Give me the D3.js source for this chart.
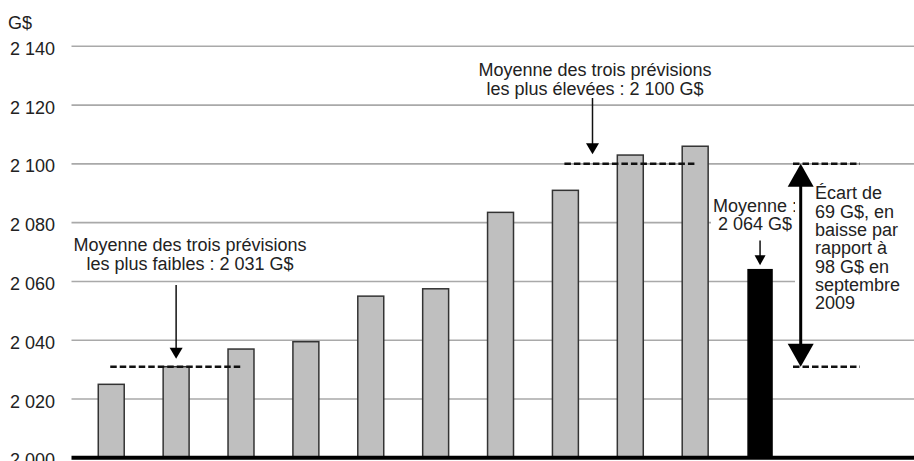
<!DOCTYPE html>
<html>
<head>
<meta charset="utf-8">
<script src="https://cdn.jsdelivr.net/npm/d3@7"></script>
<style>
  html, body { margin: 0; padding: 0; background: #fff; }
  svg { display: block; font-family: "Liberation Sans", Arial, Helvetica, sans-serif; }
</style>
</head>
<body>
<svg id="chart" width="914" height="461"></svg>
<script>
// Forecasts of the aggregate (G$), sorted, plus their overall average
const categories = ["1", "2", "3", "4", "5", "6", "7", "8", "9", "10", "Moyenne"];
const values = [2025, 2031, 2037, 2039.5, 2055, 2057.5, 2083.5, 2091, 2103, 2106, 2064];
const tickValues = [2000, 2020, 2040, 2060, 2080, 2100, 2120, 2140];
const lowAverage = 2031;   // mean of the three lowest forecasts
const highAverage = 2100;  // mean of the three highest forecasts
const unitLabel = "G$";
const lowText = ["Moyenne des trois prévisions", "les plus faibles : 2 031 G$"];
const highText = ["Moyenne des trois prévisions", "les plus élevées : 2 100 G$"];
const meanText = ["Moyenne :", "2 064 G$"];
const gapText = ["Écart de", "69 G$, en", "baisse par", "rapport à", "98 G$ en", "septembre", "2009"];

const svg = d3.select("#chart");
const W = 914;
const gridLeft = 71.5;
const ink = "#222";

const fr = d3.formatLocale({ decimal: ",", thousands: " ", grouping: [3], currency: ["", " $"] });
const fmt = fr.format(",d");

const y = d3.scaleLinear().domain([2000, 2140]).range([457.8, 46.3]);
const x = d3.scaleBand()
  .domain(categories)
  .range([78.8, 792.5])
  .paddingInner(0.6)
  .paddingOuter(0.3);

// Gridlines and value labels
const axis = d3.axisLeft(y).tickValues(tickValues).tickFormat(fmt).tickSize(0).tickPadding(0);
const gAxis = svg.append("g").attr("transform", "translate(55,0)").call(axis);
gAxis.select(".domain").remove();
gAxis.selectAll("text")
  .attr("font-size", 18).attr("fill", ink)
  .attr("font-family", "Liberation Sans, Arial, sans-serif")
  .attr("dy", "0.45em");

svg.append("g").selectAll("line")
  .data(tickValues.filter(d => d > 2000))
  .join("line")
  .attr("x1", gridLeft).attr("x2", W)
  .attr("y1", d => y(d)).attr("y2", d => y(d))
  .attr("stroke", "#a9a9a9").attr("stroke-width", 1.6);

svg.append("text").attr("x", 8).attr("y", 28.5)
  .attr("font-size", 18).attr("fill", ink).text(unitLabel);

// Bars
const isMean = (d, i) => i === categories.length - 1;
svg.append("g").selectAll("rect")
  .data(values)
  .join("rect")
  .attr("x", (d, i) => x(categories[i]) + (isMean(d, i) ? 1 : 0))
  .attr("width", (d, i) => x.bandwidth() - (isMean(d, i) ? 2 : 0))
  .attr("y", d => y(d))
  .attr("height", d => y(2000) - y(d))
  .attr("fill", (d, i) => isMean(d, i) ? "#000" : "#bfbfbf")
  .attr("stroke", (d, i) => isMean(d, i) ? "#000" : "#333")
  .attr("stroke-width", 1.5);

// Baseline
svg.append("line")
  .attr("x1", gridLeft).attr("x2", W)
  .attr("y1", y(2000)).attr("y2", y(2000))
  .attr("stroke", "#000").attr("stroke-width", 4);

// Dashed reference lines
const dash = (x1, x2, v) => svg.append("line")
  .attr("x1", x1).attr("x2", x2).attr("y1", y(v)).attr("y2", y(v))
  .attr("stroke", "#111").attr("stroke-width", 2.5).attr("stroke-dasharray", "6.5,3");
const cx = i => x(categories[i]) + x.bandwidth() / 2;
dash(cx(0) - 1, cx(2), lowAverage);
dash(cx(7) - 1, cx(9) + 1, highAverage);
dash(793, 860, highAverage);
dash(793, 860, lowAverage);

// Arrow helper: vertical shaft ending in a filled triangle at (ax, tipY)
function arrow(ax, y0, tipY, headW, headH, sw) {
  const dir = tipY > y0 ? 1 : -1;
  svg.append("line")
    .attr("x1", ax).attr("x2", ax).attr("y1", y0).attr("y2", tipY - dir * headH * 0.5)
    .attr("stroke", "#111").attr("stroke-width", sw);
  svg.append("path")
    .attr("d", `M${ax - headW / 2},${tipY - dir * headH} L${ax + headW / 2},${tipY - dir * headH} L${ax},${tipY} Z`)
    .attr("fill", "#000");
}

// Text blocks with an optional white backing
function textBlock(lines, tx, baseline, lead, anchor, bg) {
  if (bg) {
    svg.append("rect").attr("x", bg[0]).attr("y", bg[1]).attr("width", bg[2]).attr("height", bg[3]).attr("fill", "#fff");
  }
  const t = svg.append("text").attr("font-size", 18).attr("fill", ink).attr("text-anchor", anchor);
  lines.forEach((s, i) => t.append("tspan").attr("x", tx).attr("y", baseline + i * lead).text(s));
}

// Low-forecasts annotation
textBlock(lowText, 190, 251.3, 18.3, "middle");
arrow(cx(1), 285, y(lowAverage) - 8, 13, 11, 1.5);

// High-forecasts annotation
textBlock(highText, 595, 76.3, 18.3, "middle");
arrow(592.5, 98, y(highAverage) - 9.5, 13, 11, 1.5);

// Mean annotation
textBlock(meanText, 755, 211.7, 18.3, "middle", [711, 196, 86, 40]);
arrow(cx(10), 240.5, y(values[10]) - 4.5, 11, 10, 1.5);

// Spread between high and low averages
svg.append("rect").attr("x", 795).attr("y", 180).attr("width", W - 795).attr("height", 136).attr("fill", "#fff");
textBlock(gapText, 815, 199.3, 18.3, "start");
const gx = 800.7;
svg.append("line").attr("x1", gx).attr("x2", gx)
  .attr("y1", y(highAverage) + 15).attr("y2", y(lowAverage) - 15)
  .attr("stroke", "#000").attr("stroke-width", 3);
svg.append("path")
  .attr("d", `M${gx - 13},${y(highAverage) + 23} L${gx + 13},${y(highAverage) + 23} L${gx},${y(highAverage)} Z`)
  .attr("fill", "#000");
svg.append("path")
  .attr("d", `M${gx - 13},${y(lowAverage) - 23} L${gx + 13},${y(lowAverage) - 23} L${gx},${y(lowAverage)} Z`)
  .attr("fill", "#000");
</script>
</body>
</html>
